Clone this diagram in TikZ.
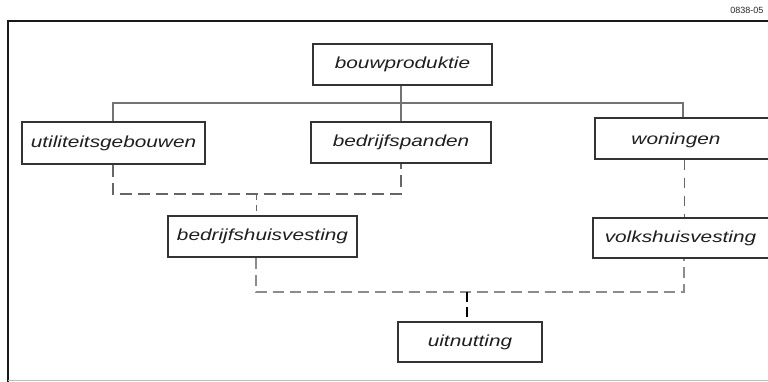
\documentclass[tikz,border=0pt]{standalone}
\usepackage{fontspec}
\setmainfont{Liberation Sans}
\newfontfamily\labfont[FakeStretch=1.3]{Liberation Sans}
\begin{document}
\begin{tikzpicture}[x=1pt,y=-1pt,
  box/.style={draw=black!80, line width=1.1pt, fill=white, inner sep=0pt,
    font=\labfont\itshape\fontsize{16}{18}\selectfont, text=black!88},
  tree/.style={draw=black!55, line width=1.2pt},
  link/.style={draw=black!60, line width=1.4pt, dash pattern=on 12pt off 6pt},
  mainlink/.style={draw=black, line width=2.4pt, dash pattern=on 10pt off 5pt}]
\useasboundingbox (0,0) rectangle (768,382);
\clip (0,0) rectangle (768,382);

% frame
\node[font=\fontsize{9}{10}\selectfont, anchor=east, text=black!85] (code) at (767,10) {0838-05};
\draw[line width=2pt, black!90] (8,382) -- (8,21) -- (768,21);
\draw[line width=1.2pt, black!25] (8,380.5) -- (768,380.5);

% boxes
\node[box, minimum width=179pt, minimum height=41pt] (bouw) at (402.5,64.5) {bouwproduktie};
\node[box, minimum width=183pt, minimum height=42pt] (util) at (113.5,143) {utiliteitsgebouwen};
\node[box, minimum width=180pt, minimum height=41pt] (panden) at (401,142.5) {bedrijfspanden};
\node[box, minimum width=176pt, minimum height=41pt, text depth=0pt] (won) at (683,138.5) {\hspace*{-14pt}woningen};
\node[box, minimum width=189pt, minimum height=41pt] (bhv) at (262.5,236.5) {bedrijfshuisvesting};
\node[box, minimum width=180pt, minimum height=40pt] (vhv) at (683,238) {\hspace*{-5pt}volkshuisvesting};
\node[box, minimum width=144pt, minimum height=40pt] (uit) at (470,342) {uitnutting};

% solid tree below bouwproduktie
\coordinate (tl) at (113,103);
\coordinate (tr) at (683,103);
\draw[tree] (bouw.south -| 401,0) -- (panden.north -| 401,0);
\draw[tree] (util.north -| tl) -- (tl) -- (tr) -- (won.north -| tr);

% dashed merge into bedrijfshuisvesting
\coordinate (ja) at (113,194);
\coordinate (jb) at (401,194);
\coordinate (jc) at (256,194);
\draw[link] (util.south -| ja) -- (ja) -- (jb) -- (panden.south -| jb);
\draw[link, dash pattern=on 6pt off 5pt, line width=1pt] (jc) -- (bhv.north -| jc);

% dashed woningen to volkshuisvesting
\draw[link, dash pattern=on 10pt off 8pt, line width=1pt] (won.south -| 684,0) -- (vhv.north -| 684,0);

% dashed merge into uitnutting
\coordinate (ka) at (256,292);
\coordinate (kb) at (684,292);
\coordinate (kc) at (467,292);
\draw[link, dash pattern=on 11pt off 6pt, line width=1.5pt, draw=black!45] (bhv.south -| ka) -- (ka) -- (kb) -- (vhv.south -| kb);
\draw[mainlink] (kc) -- (uit.north -| kc);
\end{tikzpicture}
\end{document}
